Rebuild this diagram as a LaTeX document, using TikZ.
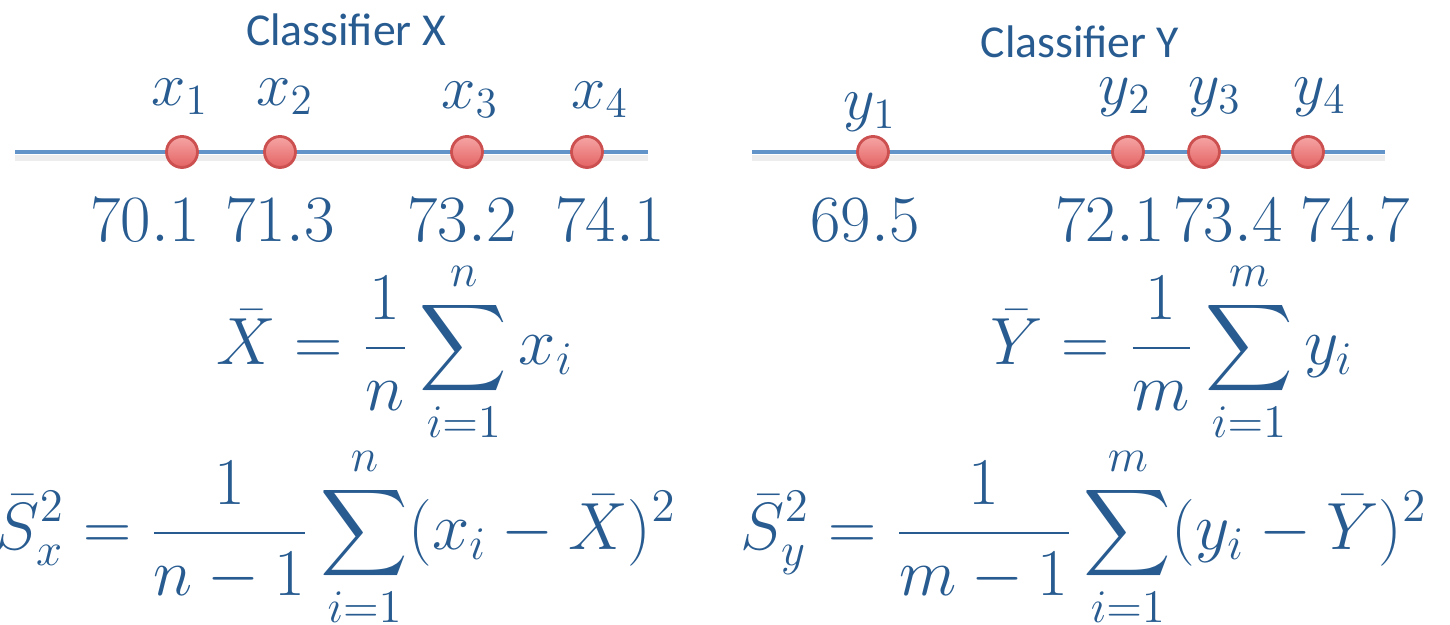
\RequirePackage{fix-cm}
\documentclass[tikz,border=0pt]{standalone}
\usepackage{amsmath}
\usepackage{fontspec}
\newfontfamily\titlefont{Carlito}
\usetikzlibrary{positioning}

\definecolor{txtblue}{RGB}{40,92,145}
\definecolor{lineblue}{RGB}{98,148,202}
\definecolor{dotred}{RGB}{228,98,98}
\definecolor{dotpink}{RGB}{246,165,165}
\definecolor{dotrim}{RGB}{205,80,80}

\tikzset{
    axis/.style={line width=1.4pt, lineblue},
    axisshadow/.style={line width=1.8pt, black, opacity=0.07},
    dot/.style={circle, minimum size=0.31cm, inner sep=0pt, draw=dotrim, line width=0.8pt,
        top color=dotpink, bottom color=dotred},
    lbl/.style={text=txtblue, font=\fontsize{17.5}{20}\selectfont},
    val/.style={text=txtblue, font=\fontsize{18.8}{22}\selectfont},
    eq/.style={text=txtblue, font=\fontsize{19}{23}\selectfont},
    title/.style={text=txtblue, font=\titlefont\fontsize{13}{15}\selectfont}
}

\begin{document}
\begin{tikzpicture}[x=0.01cm, y=-0.01cm]
    \useasboundingbox (0, 0) rectangle (1450, 625);

    % Classifier X
    \node[title] (titleX) at (346, 30) {Classifier X};
    \coordinate (xstart) at (15, 152);
    \coordinate (xend) at (648, 152);
    \draw[axisshadow] ([yshift=-1.8pt]xstart) -- ([yshift=-1.8pt]xend);
    \draw[axis] (xstart) -- (xend);
    \node[dot] (x1) at (182, 152) {};
    \node[dot] (x2) at (280, 152) {};
    \node[dot] (x3) at (467, 152) {};
    \node[dot] (x4) at (587, 152) {};
    \node[lbl] (lx1) at (180, 97) {$x_1$};
    \node[lbl] (lx2) at (285, 97) {$x_2$};
    \node[lbl] (lx3) at (470, 100) {$x_3$};
    \node[lbl] (lx4) at (600, 100) {$x_4$};
    \node[val] (vx1) at (145, 220) {$70.1$};
    \node[val] (vx2) at (280, 220) {$71.3$};
    \node[val] (vx3) at (462, 220) {$73.2$};
    \node[val] (vx4) at (610, 220) {$74.1$};

    % Classifier Y
    \node[title] (titleY) at (1080, 42) {Classifier Y};
    \coordinate (ystart) at (752, 152);
    \coordinate (yend) at (1385, 152);
    \draw[axisshadow] ([yshift=-1.8pt]ystart) -- ([yshift=-1.8pt]yend);
    \draw[axis] (ystart) -- (yend);
    \node[dot] (y1) at (873, 152) {};
    \node[dot] (y2) at (1128, 152) {};
    \node[dot] (y3) at (1204, 152) {};
    \node[dot] (y4) at (1308, 152) {};
    \node[lbl] (ly1) at (870, 112) {$y_1$};
    \node[lbl] (ly2) at (1125, 97) {$y_2$};
    \node[lbl] (ly3) at (1215, 97) {$y_3$};
    \node[lbl] (ly4) at (1320, 97) {$y_4$};
    \node[val] (vy1) at (865, 220) {$69.5$};
    \node[val] (vy2) at (1110, 220) {$72.1$};
    \node[val] (vy3) at (1228, 220) {$73.4$};
    \node[val] (vy4) at (1355, 220) {$74.7$};

    % mean and variance
    \node[eq] (meanX) at (395, 352) {$\displaystyle \bar{X} = \frac{1}{n}\sum_{i=1}^{n} x_i$};
    \node[eq] (varX) at (336, 537) {$\displaystyle \bar{S}_x^2 = \frac{1}{n-1}\sum_{i=1}^{n}(x_i-\bar{X})^2$};
    \node[eq] (meanY) at (1172, 352) {$\displaystyle \bar{Y} = \frac{1}{m}\sum_{i=1}^{m} y_i$};
    \node[eq] (varY) at (1084, 537) {$\displaystyle \bar{S}_y^2 = \frac{1}{m-1}\sum_{i=1}^{m}(y_i-\bar{Y})^2$};
\end{tikzpicture}
\end{document}
